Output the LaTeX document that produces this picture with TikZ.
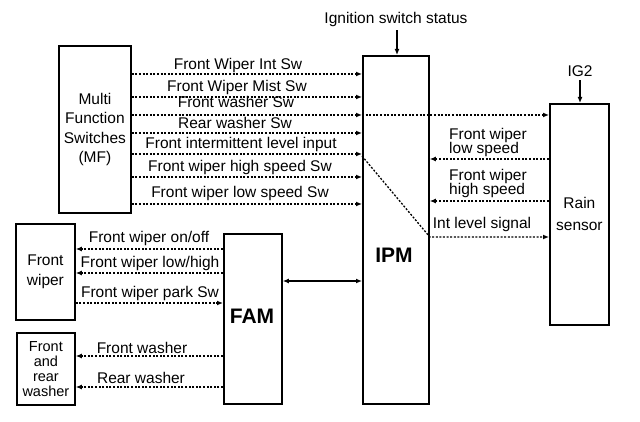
\documentclass[tikz,border=0pt]{standalone}
\usepackage{fontspec}
\setmainfont{Liberation Sans}
\usetikzlibrary{arrows.meta}
\begin{document}
\begin{tikzpicture}[x=1pt,y=-1pt,
  box/.style={draw, line width=1.8pt, anchor=north west, inner sep=0pt, align=center,
    font=\fontsize{15.5}{19.5}\selectfont},
  big/.style={font=\fontsize{21}{24}\selectfont\bfseries, inner sep=0pt},
  sig/.style={line width=1.3pt, dash pattern=on 2pt off 1.6pt, -{Latex[length=6pt,width=5pt]}},
  solidarr/.style={line width=1.4pt, -{Latex[length=6pt,width=5pt]}},
  lbl/.style={font=\fontsize{15.5}{14.5}\selectfont, inner sep=0pt, align=left}
]
\useasboundingbox (0,0) rectangle (640,422);

% boxes
\node[box, minimum width=72pt, minimum height=167pt] (mf) at (58,45)
  {Multi\\Function\\Switches\\(MF)};
\node[box, minimum width=66pt, minimum height=348pt] (ipm) at (362,55) {};
\node[big] (ipmlabel) at (394,255) {IPM};
\node[box, minimum width=59pt, minimum height=221pt, font=\fontsize{15.5}{22}\selectfont] (rain) at (549,103) {Rain\\sensor};
\node[box, minimum width=58pt, minimum height=170pt] (fam) at (223,233) {};
\node[big] (famlabel) at (252,316) {FAM};
\node[box, minimum width=59pt, minimum height=96pt, font=\fontsize{15.5}{20}\selectfont] (wiper) at (15,223) {Front\\wiper};
\node[box, minimum width=58pt, minimum height=72pt, font=\fontsize{14.5}{15}\selectfont] (washer) at (16,332) {Front\\and\\rear\\washer};

% top inputs
\node[lbl, anchor=base] (ign) at (396,24) {Ignition switch status};
\draw[solidarr, line width=1.2pt] (ign.south -| 397,0) ++(0,3) -- (ipm.north -| 397,0);
\node[lbl, anchor=base] (ig2) at (580,77) {IG2};
\draw[solidarr, line width=1.2pt] (ig2.south) ++(0,3) -- (ig2.south |- rain.north);

% MF -> IPM
\draw[sig] (mf.east |- 0,74)  -- (ipm.west |- 0,74);
\draw[sig] (mf.east |- 0,97)  -- (ipm.west |- 0,97);
\draw[sig] (mf.east |- 0,115) -- (ipm.west |- 0,115);
\draw[sig] (ipm.west |- 0,115) -- (rain.west |- 0,115);
\draw[sig] (mf.east |- 0,133) -- (ipm.west |- 0,133);
\draw[sig] (mf.east |- 0,154) -- (ipm.west |- 0,154);
\draw[sig] (mf.east |- 0,177) -- (ipm.west |- 0,177);
\draw[sig] (mf.east |- 0,204) -- (ipm.west |- 0,204);

\node[lbl, anchor=base] (l1) at (238,70)  {Front Wiper Int Sw};
\node[lbl, anchor=base] (l2) at (237,92)  {Front Wiper Mist Sw};
\node[lbl, anchor=base] (l3) at (236,108) {Front washer Sw};
\node[lbl, anchor=base] (l4) at (235,129) {Rear washer Sw};
\node[lbl, anchor=base] (l5) at (241,149) {Front intermittent level input};
\node[lbl, anchor=base] (l6) at (240,172) {Front wiper high speed Sw};
\node[lbl, anchor=base] (l7) at (240,198) {Front wiper low speed Sw};

% Rain sensor <-> IPM
\draw[sig] (rain.west |- 0,159) -- (ipm.east |- 0,159);
\draw[sig] (rain.west |- 0,201) -- (ipm.east |- 0,201);
\draw[sig] (ipm.west |- 0,156) -- (ipm.east |- 0,237) -- (rain.west |- 0,237);
\node[lbl, anchor=south west] (r1) at (449,157) {Front wiper\\low speed};
\node[lbl, anchor=south west] (r2) at (449,198) {Front wiper\\high speed};
\node[lbl, anchor=base] (r3) at (482,229) {Int level signal};

% FAM <-> IPM
\draw[solidarr, {Latex[length=6pt,width=5pt]}-{Latex[length=6pt,width=5pt]}] (fam.east |- 0,281) -- (ipm.west |- 0,281);

% FAM <-> front wiper / washer
\draw[sig] (fam.west |- 0,249) -- (wiper.east |- 0,249);
\draw[sig] (fam.west |- 0,273) -- (wiper.east |- 0,273);
\draw[sig] (wiper.east |- 0,303) -- (fam.west |- 0,303);
\draw[sig] (fam.west |- 0,356) -- (washer.east |- 0,356);
\draw[sig] (fam.west |- 0,387) -- (washer.east |- 0,387);

\node[lbl, anchor=base] (b1) at (149,243) {Front wiper on/off};
\node[lbl, anchor=base] (b2) at (150,268) {Front wiper low/high};
\node[lbl, anchor=base] (b3) at (150,297) {Front wiper park Sw};
\node[lbl, anchor=base] (b4) at (142,353) {Front washer};
\node[lbl, anchor=base] (b5) at (141,383) {Rear washer};
\end{tikzpicture}
\end{document}
